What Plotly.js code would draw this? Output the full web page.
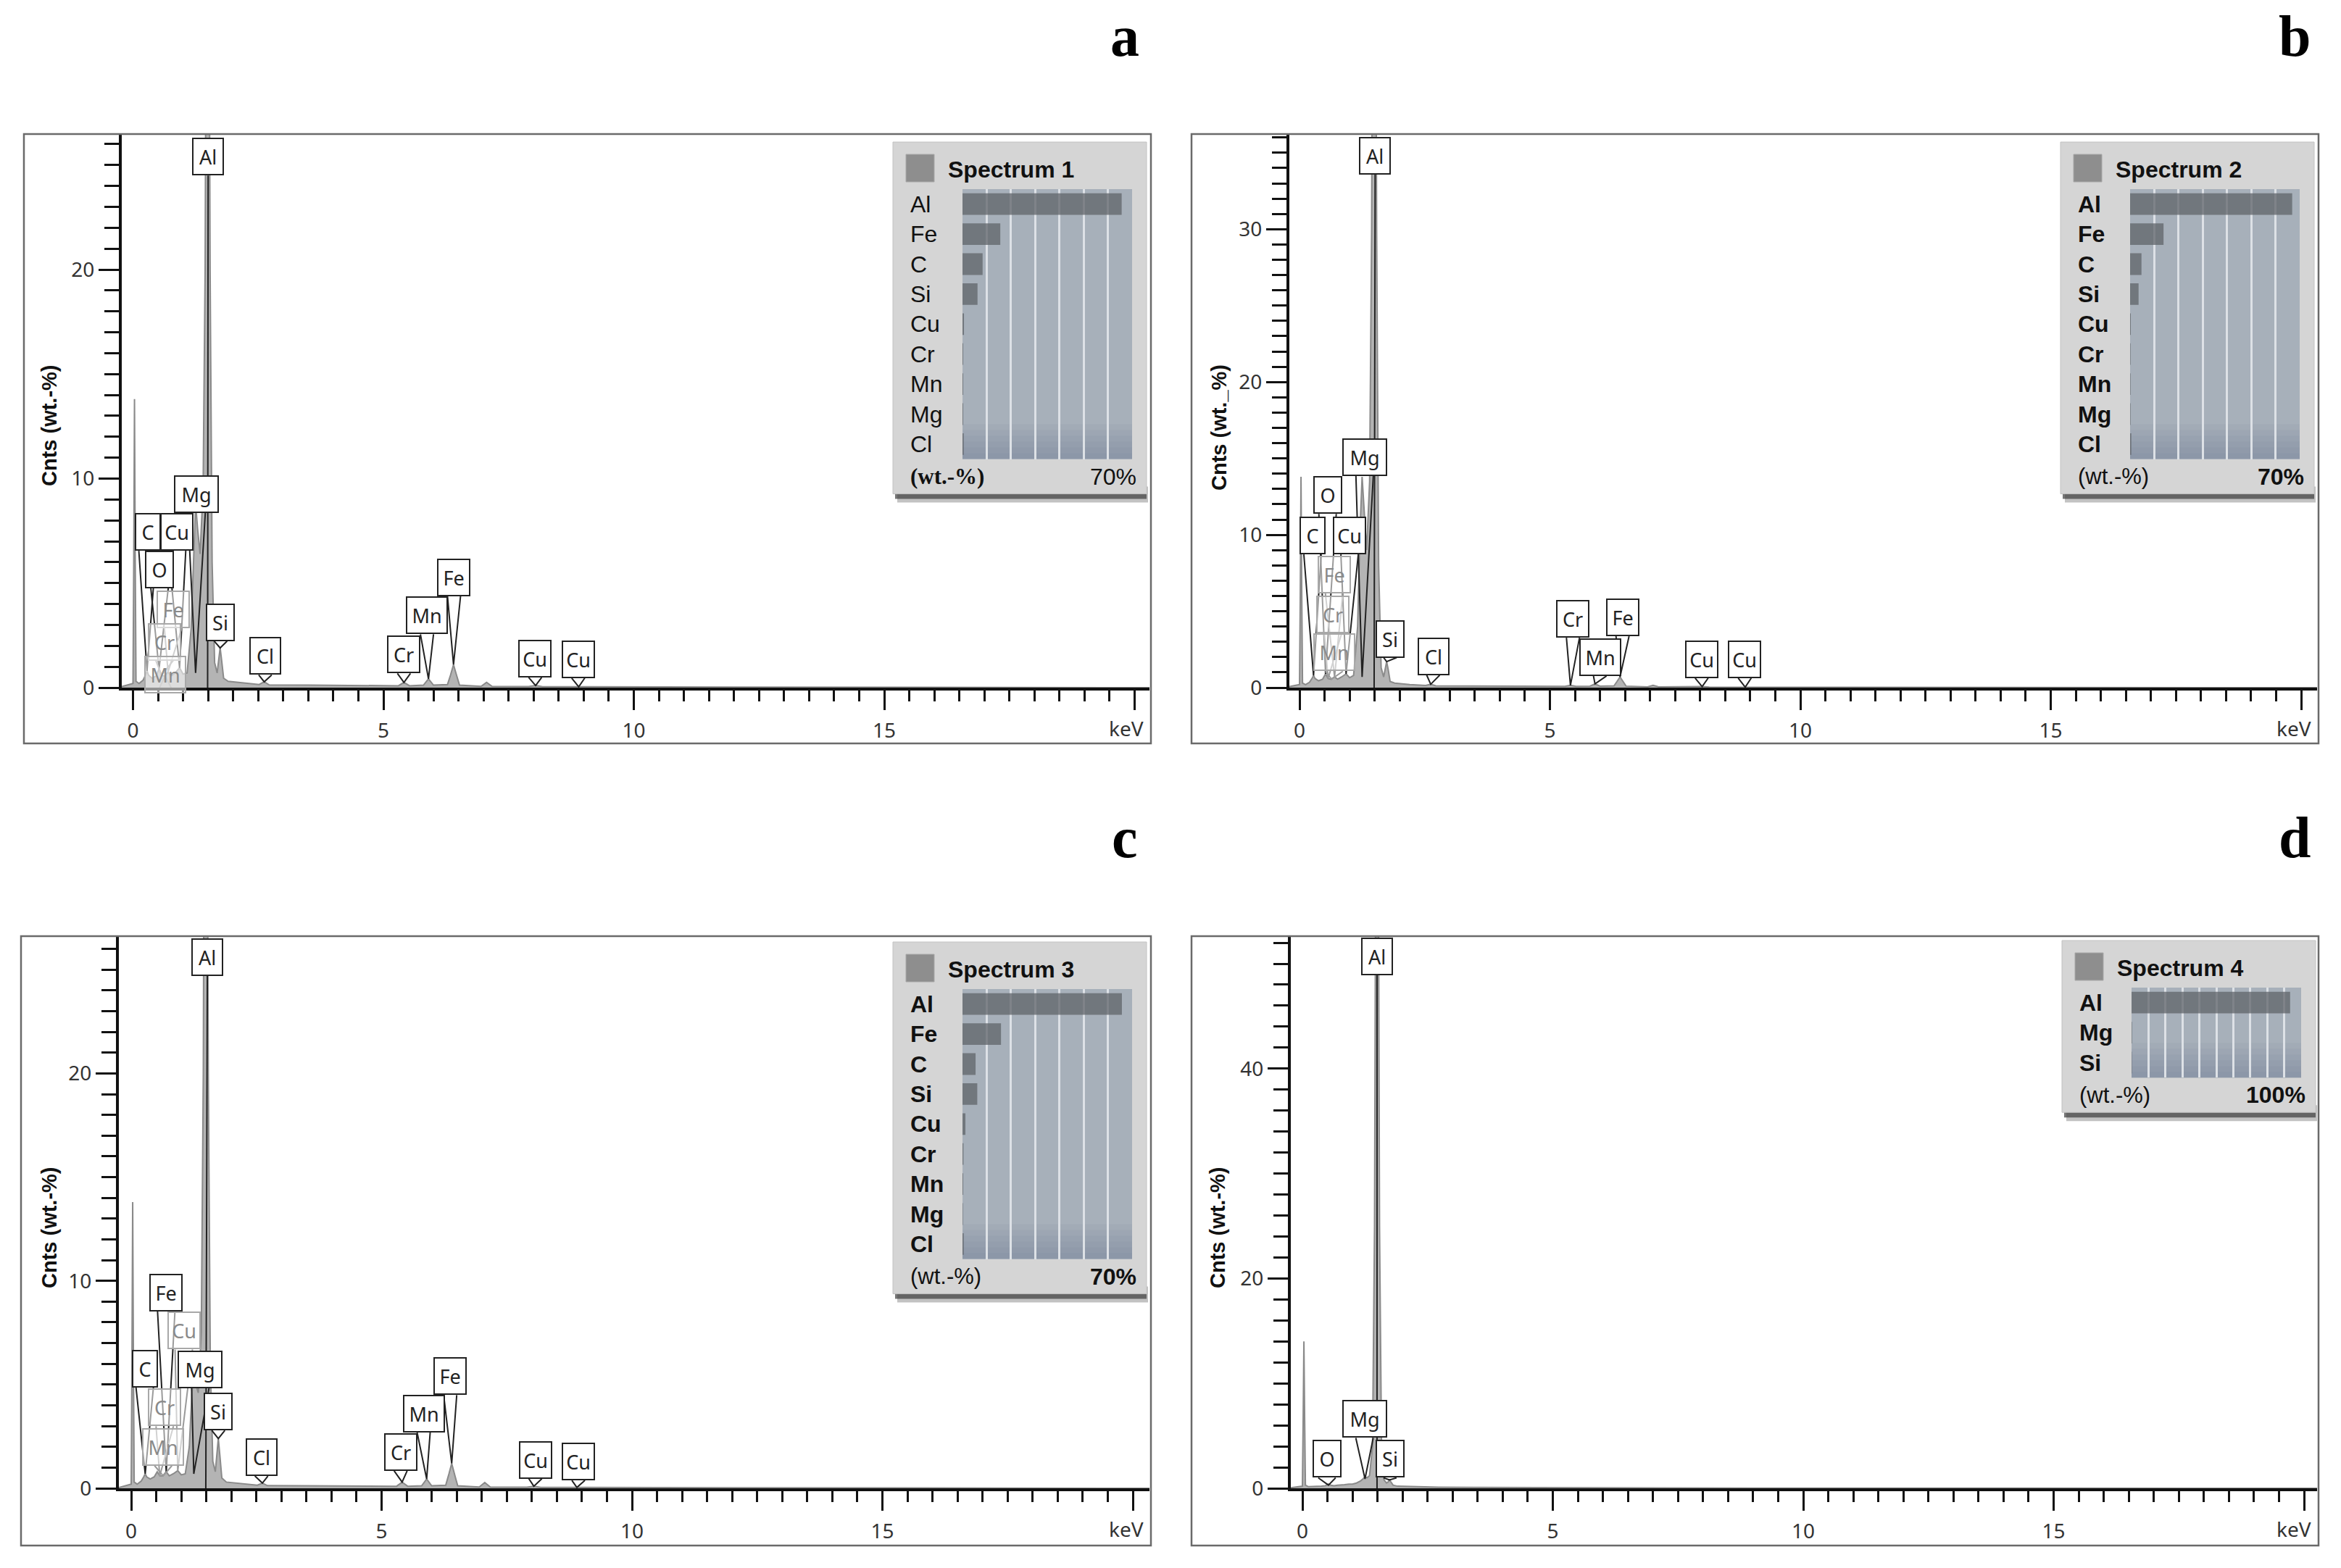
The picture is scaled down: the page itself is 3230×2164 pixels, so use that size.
<!DOCTYPE html>
<html><head><meta charset="utf-8">
<script src="https://cdn.plot.ly/plotly-3.0.1.min.js"></script>
<style>html,body{margin:0;padding:0;background:#fff}#chart{width:3230px;height:2164px}</style>
</head><body><div id="chart"></div>
<script>
// ================= DATA =================
// shared energy grid (keV) of the four EDS spectra
const energyKeV = [-0.3,0.00,0.015,0.03,0.045,0.06,0.12,0.2,0.25,0.28,0.31,0.38,0.46,0.52,0.57,0.63,0.70,0.76,0.84,0.93,1.00,1.08,1.16,1.21,1.25,1.29,1.34,1.40,1.44,1.47,1.49,1.51,1.54,1.58,1.63,1.68,1.71,1.74,1.77,1.81,1.90,2.20,2.52,2.62,2.72,3.50,4.50,5.30,5.41,5.52,5.80,5.90,6.00,6.28,6.34,6.40,6.46,6.52,6.95,7.06,7.17,7.90,8.04,8.18,9.00,11.0,14.0,20.5];
const countsA = [0,0.2,6.0,13.8,6.0,0.3,0.2,0.35,0.6,0.8,0.6,0.45,0.55,0.9,0.6,0.55,0.75,0.55,0.7,0.95,0.65,0.7,2.8,6.5,8.8,7.6,6.4,9.5,20,40,62,40,20,6.0,1.2,0.7,1.3,1.9,1.3,0.45,0.3,0.22,0.15,0.28,0.13,0.12,0.1,0.09,0.25,0.09,0.12,0.42,0.12,0.15,0.6,1.1,0.6,0.12,0.06,0.25,0.06,0.05,0.1,0.04,0.04,0.03,0.02,0];
const countsB = [0,0.2,6.0,13.8,6.0,0.3,0.2,0.35,0.6,0.8,0.6,0.45,0.55,0.9,0.6,0.55,0.7,0.55,0.7,0.9,0.65,0.8,4.0,10.5,13.8,11.5,9.0,13.5,30,60,90,60,30,8.0,1.3,0.7,1.2,1.7,1.2,0.4,0.3,0.2,0.14,0.22,0.12,0.1,0.09,0.08,0.15,0.08,0.1,0.25,0.1,0.12,0.4,0.7,0.4,0.1,0.05,0.15,0.05,0.04,0.07,0.03,0.03,0.02,0.01,0];
const countsC = [0,0.2,6.0,13.8,6.0,0.3,0.2,0.35,0.55,0.7,0.55,0.45,0.55,0.8,0.6,0.6,0.8,0.6,0.7,0.85,0.65,0.7,2.0,4.5,5.6,5.0,4.6,7.5,20,40,62,40,20,6.0,1.3,0.8,1.6,2.4,1.6,0.5,0.3,0.22,0.15,0.25,0.13,0.12,0.1,0.1,0.3,0.1,0.12,0.45,0.12,0.15,0.65,1.2,0.65,0.12,0.06,0.28,0.06,0.05,0.1,0.04,0.04,0.03,0.02,0];
const countsD = [0,0.2,6.5,14.0,6.5,0.3,0.15,0.15,0.15,0.15,0.15,0.2,0.25,0.4,0.3,0.25,0.3,0.3,0.35,0.4,0.4,0.5,0.7,0.9,1.1,1.0,1.2,4.0,25,70,130,70,25,4.0,0.8,0.5,0.6,0.8,0.6,0.3,0.2,0.15,0.1,0.1,0.1,0.08,0.06,0.05,0.05,0.05,0.05,0.05,0.05,0.04,0.04,0.04,0.04,0.04,0.03,0.03,0.03,0.03,0.03,0.03,0.02,0.02,0.01,0];

// element line markers: name, line energy (keV), spectrum height at the marker
const markNamesA  = ['Al','Mg','C','Cu','O','Fe','Cr','Mn','Si','Cl','Cr','Mn','Fe','Cu','Cu'];
const markEnergyA = [1.49,1.25,0.28,0.93,0.52,0.70,0.57,0.64,1.74,2.62,5.41,5.90,6.40,8.04,8.90];
const markTipA    = [0,0.7,0.8,0.95,0.9,0.75,0.6,0.55,1.9,0.28,0.25,0.42,1.1,0.1,0.04];
const markNamesB  = ['Al','Mg','O','C','Cu','Fe','Cr','Mn','Si','Cl','Cr','Fe','Mn','Cu','Cu'];
const markEnergyB = [1.49,1.25,0.52,0.28,0.93,0.70,0.57,0.64,1.74,2.62,5.41,6.40,5.90,8.04,8.90];
const markTipB    = [0,0.7,0.9,0.8,0.9,0.7,0.6,0.55,1.7,0.22,0.15,0.7,0.25,0.07,0.03];
const markNamesC  = ['Al','Fe','Cu','C','Mg','Cr','Mn','Si','Cl','Cr','Mn','Fe','Cu','Cu'];
const markEnergyC = [1.49,0.70,0.93,0.28,1.25,0.57,0.64,1.74,2.62,5.41,5.90,6.40,8.04,8.90];
const markTipC    = [0,0.8,0.85,0.7,0.7,0.6,0.6,2.4,0.25,0.3,0.45,1.2,0.1,0.04];
const markNamesD  = ['Al','Mg','O','Si'];
const markEnergyD = [1.49,1.25,0.52,1.74];
const markTipD    = [0,0.9,0.3,0.8];

// quantification (wt.-%)
const wtElementsA = ['Al','Fe','C','Si','Cu','Cr','Mn','Mg','Cl'];
const wtValuesA   = [65.7,15.6,8.3,6.2,0.6,0.3,0.3,0.3,0.5];
const wtElementsB = ['Al','Fe','C','Si','Cu','Cr','Mn','Mg','Cl'];
const wtValuesB   = [66.9,13.8,4.7,3.5,0.3,0.2,0.2,0.2,0.5];
const wtElementsC = ['Al','Fe','C','Si','Cu','Cr','Mn','Mg','Cl'];
const wtValuesC   = [65.8,15.9,5.4,6.1,1.2,0.4,0.3,0.2,0.5];
const wtElementsD = ['Al','Mg','Si'];
const wtValuesD   = [93.5,0.3,0.2];

// tick labels
const xTickVals = [0,5,10,15,20];
const xTickText = ['0','5','10','15',''];

// ================= LAYOUT (placement only) =================
const W = 3230, H = 2164;
const PX = v => v / W, PY = v => 1 - v / H;
// label box placement per panel (keV, counts) and faded flag
const placeA = {cx:[1.50,1.27,0.29,0.88,0.53,0.80,0.63,0.65,1.75,2.64,5.41,5.87,6.41,8.03,8.89],
                cy:[25.4,9.26,7.45,7.45,5.65,3.75,2.2,0.62,3.13,1.51,1.58,3.45,5.28,1.39,1.36],
                faded:[0,0,0,0,0,1,1,1,0,0,0,0,0,0,0]};
const placeB = {cx:[1.51,1.30,0.56,0.26,1.00,0.69,0.67,0.69,1.81,2.67,5.46,6.45,6.00,8.03,8.89],
                cy:[34.8,15.1,12.6,9.95,9.95,7.4,4.8,2.3,3.2,2.05,4.5,4.6,2.0,1.86,1.86],
                faded:[0,0,0,0,0,1,1,1,0,0,0,0,0,0,0]};
const placeC = {cx:[1.52,0.70,1.05,0.27,1.38,0.67,0.64,1.74,2.60,5.38,5.84,6.37,8.07,8.93],
                cy:[25.6,9.44,7.6,5.77,5.73,3.9,2.0,3.7,1.5,1.75,3.6,5.4,1.37,1.29],
                faded:[0,0,1,0,0,1,1,0,0,0,0,0,0,0]};
const placeD = {cx:[1.49,1.24,0.49,1.75], cy:[50.7,6.6,2.8,2.8], faded:[0,0,0,0]};

const boxW = {Al:44, Mg:62, C:36, Cu:46, O:40, Fe:46, Si:40, Cl:44, Cr:46, Mn:58};
const boxH = 52;

const panels = [
  {n:1, counts:countsA, names:markNamesA, E:markEnergyA, tip:markTipA, place:placeA,
   frame:[33,185,1588,1026], axisPx:168, rightPx:1586, x0:183.5, ppk:69.1, base:949, top:185, ppu:28.85, ydt:10, ymin:1,
   ytitle:'Cnts (wt.-%)', ytX:68, ytY:587, letter:'a', lx:1552, ly:50,
   inset:{bx:1232, by:196, rows:9, max:70, title:'Spectrum 1', el:wtElementsA, v:wtValuesA, rowBold:false, wtSerif:true, pctBold:false, pct:'70%'}},
  {n:2, counts:countsB, names:markNamesB, E:markEnergyB, tip:markTipB, place:placeB,
   frame:[1644,185,3199,1026], axisPx:1779, rightPx:3197, x0:1793, ppk:69.1, base:949, top:185, ppu:21.09, ydt:10, ymin:1,
   ytitle:'Cnts (wt._%)', ytX:1682, ytY:590, letter:'b', lx:3166, ly:50,
   inset:{bx:2843, by:196, rows:9, max:70, title:'Spectrum 2', el:wtElementsB, v:wtValuesB, rowBold:true, wtSerif:false, pctBold:true, pct:'70%'}},
  {n:3, counts:countsC, names:markNamesC, E:markEnergyC, tip:markTipC, place:placeC,
   frame:[29,1292,1588,2133], axisPx:164, rightPx:1586, x0:181, ppk:69.1, base:2054, top:1292, ppu:28.63, ydt:10, ymin:1,
   ytitle:'Cnts (wt.-%)', ytX:68, ytY:1694, letter:'c', lx:1552, ly:1156,
   inset:{bx:1232, by:1300, rows:9, max:70, title:'Spectrum 3', el:wtElementsC, v:wtValuesC, rowBold:true, wtSerif:false, pctBold:true, pct:'70%'}},
  {n:4, counts:countsD, names:markNamesD, E:markEnergyD, tip:markTipD, place:placeD,
   frame:[1644,1292,3199,2133], axisPx:1781, rightPx:3197, x0:1797, ppk:69.1, base:2054, top:1292, ppu:14.48, ydt:20, ymin:2,
   ytitle:'Cnts (wt.-%)', ytX:1680, ytY:1694, letter:'d', lx:3166, ly:1156,
   inset:{bx:2845, by:1298, rows:3, max:100, title:'Spectrum 4', el:wtElementsD, v:wtValuesD, rowBold:true, wtSerif:false, pctBold:true, pct:'100%'}}
];

const traces = [];
const shapes = [];
const annotations = [];
const layout = {
  width: W, height: H, margin:{l:0,r:0,t:0,b:0,pad:0},
  paper_bgcolor:'#ffffff', plot_bgcolor:'rgba(0,0,0,0)', showlegend:false,
  font:{family:'Noto Sans', color:'#222'}
};

const sans = 'Liberation Sans, Arial, sans-serif';
const tickFont = {family:'Noto Sans, Open Sans, sans-serif', size:28, color:'#333'};

panels.forEach(p => {
  const xa = 'x' + (p.n === 1 ? '' : p.n), ya = 'y' + (p.n === 1 ? '' : p.n);
  const xr = [(p.axisPx - p.x0) / p.ppk, (p.rightPx - p.x0) / p.ppk];
  const yr = [0, (p.base - p.top) / p.ppu];
  layout['xaxis' + (p.n === 1 ? '' : p.n)] = {
    domain:[PX(p.axisPx), PX(p.rightPx)], range:xr, anchor:ya, fixedrange:true,
    showline:true, linecolor:'#111', linewidth:4, showgrid:false, zeroline:false,
    ticks:'outside', tickmode:'array', tickvals:xTickVals, ticktext:xTickText,
    ticklen:27, tickwidth:3, tickcolor:'#111', tickfont:tickFont, ticklabelstandoff:4,
    minor:{ticks:'outside', dtick:0.5, tick0:0, ticklen:15, tickwidth:3, tickcolor:'#111', showgrid:false}
  };
  layout['yaxis' + (p.n === 1 ? '' : p.n)] = {
    domain:[PY(p.base), PY(p.top)], range:yr, anchor:xa, fixedrange:true,
    showline:true, linecolor:'#111', linewidth:4, showgrid:false, zeroline:false,
    ticks:'outside', tick0:0, dtick:p.ydt, ticklen:28, tickwidth:3, tickcolor:'#111', tickfont:tickFont,
    minor:{ticks:'outside', dtick:p.ymin, tick0:0, ticklen:20, tickwidth:3, tickcolor:'#111', showgrid:false}
  };
  // spectrum
  traces.push({type:'scatter', mode:'lines', x:energyKeV, y:p.counts, xaxis:xa, yaxis:ya,
    fill:'tozeroy', fillcolor:'#b4b4b4', line:{color:'#8a8a8a', width:2}, hoverinfo:'skip'});
  // frame
  shapes.push({type:'rect', xref:'paper', yref:'paper', x0:PX(p.frame[0]), x1:PX(p.frame[2]),
    y0:PY(p.frame[3]), y1:PY(p.frame[1]), line:{color:'#6a6a6a', width:2.5}, fillcolor:'rgba(0,0,0,0)', layer:'above'});
  // element markers
  p.names.forEach((nm, i) => {
    const bw = boxW[nm], cx = p.place.cx[i], cy = p.place.cy[i];
    const yb = cy - (boxH / 2) / p.ppu;
    const E = p.E[i];
    let hw = (nm === 'Al') ? 0 : (E < 1.4 ? 12 : 9);
    hw = hw / p.ppk;
    const faded = p.place.faded[i];
    const col = faded ? '#9a9a9a' : '#222';
    shapes.push({type:'path', xref:xa, yref:ya, layer:'above',
      path:`M ${cx - hw},${yb} L ${E},${p.tip[i]} L ${cx + hw},${yb}`,
      line:{color:col, width:2}});
    annotations.push({xref:xa, yref:ya, x:cx, y:cy, text:nm, showarrow:false,
      width:bw - 4, height:boxH - 4, borderpad:0, borderwidth:2,
      bordercolor: faded ? '#a8a8a8' : '#222', bgcolor: faded ? 'rgba(255,255,255,0.55)' : '#ffffff',
      font:{family:'Noto Sans, Open Sans, sans-serif', size:27, color: faded ? '#8a8a8a' : '#222'},
      xanchor:'center', yanchor:'middle'});
  });
  // keV label
  annotations.push({xref:'paper', yref:'paper', x:PX(p.rightPx - 6), y:PY(p.base + 56), text:'keV', showarrow:false,
    xanchor:'right', yanchor:'middle', font:tickFont});
  // y title
  annotations.push({xref:'paper', yref:'paper', x:PX(p.ytX), y:PY(p.ytY), text:'<b>' + p.ytitle + '</b>', showarrow:false,
    textangle:-90, xanchor:'center', yanchor:'middle', font:{family:sans, size:29, color:'#111'}});
  // panel letter
  annotations.push({xref:'paper', yref:'paper', x:PX(p.lx), y:PY(p.ly), text:'<b>' + p.letter + '</b>', showarrow:false,
    xanchor:'center', yanchor:'middle', font:{family:'Liberation Serif, Times New Roman, serif', size:80, color:'#000'}});

  // ---------- inset quantification box ----------
  const q = p.inset, bx = q.bx, by = q.by, bw = 350;
  const rowH = 41.4, areaX0 = bx + 96, areaX1 = bx + 330, areaY0 = by + 65, areaY1 = by + 65 + q.rows * rowH;
  const bh = (areaY1 - by) + 48;
  shapes.push({type:'rect', xref:'paper', yref:'paper', layer:'below', x0:PX(bx + 6), x1:PX(bx + bw + 2), y0:PY(by + bh + 12), y1:PY(by + bh - 10),
    fillcolor:'rgba(80,80,80,0.35)', line:{width:0}});
  shapes.push({type:'rect', xref:'paper', yref:'paper', layer:'below', x0:PX(bx + 3), x1:PX(bx + bw), y0:PY(by + bh + 7), y1:PY(by + bh - 6),
    fillcolor:'rgba(60,60,60,0.7)', line:{width:0}});
  shapes.push({type:'rect', xref:'paper', yref:'paper', layer:'below', x0:PX(bx), x1:PX(bx + bw), y0:PY(by + bh), y1:PY(by),
    fillcolor:'#d5d5d5', line:{color:'#c2c2c2', width:1}});
  shapes.push({type:'rect', xref:'paper', yref:'paper', layer:'below', x0:PX(bx + 18), x1:PX(bx + 57), y0:PY(by + 55), y1:PY(by + 17),
    fillcolor:'#8e8e8e', line:{color:'#a8a8a8', width:1}});
  shapes.push({type:'rect', xref:'paper', yref:'paper', layer:'below', x0:PX(areaX0), x1:PX(areaX1), y0:PY(areaY1), y1:PY(areaY0),
    fillcolor:'#a7b0ba', line:{width:0}});
  // soft darkening toward the bottom of the bar area
  for (let k = 0; k < 6; k++) {
    shapes.push({type:'rect', xref:'paper', yref:'paper', layer:'below', x0:PX(areaX0), x1:PX(areaX1),
      y0:PY(areaY1), y1:PY(areaY1 - 48 + k * 8), fillcolor:'rgba(105,120,138,0.07)', line:{width:0}});
  }
  const ix = 'x' + (p.n + 4), iy = 'y' + (p.n + 4);
  layout['xaxis' + (p.n + 4)] = {domain:[PX(areaX0), PX(areaX1)], range:[0, q.max], anchor:iy, fixedrange:true,
    showgrid:true, dtick:10, tick0:0, gridcolor:'#dde1e6', gridwidth:3, showticklabels:false, ticks:'', zeroline:false, showline:false};
  layout['yaxis' + (p.n + 4)] = {domain:[PY(areaY1), PY(areaY0)], type:'category', categoryorder:'array', categoryarray:q.el,
    range:[q.rows - 0.5, -0.5], anchor:ix, fixedrange:true, showgrid:false, showticklabels:false, ticks:'', zeroline:false, showline:false};
  traces.push({type:'bar', orientation:'h', x:q.v, y:q.el, xaxis:ix, yaxis:iy, width:0.72,
    marker:{color:'rgba(95,98,104,0.74)', line:{width:0}}, hoverinfo:'skip'});
  q.el.forEach((el, i) => {
    annotations.push({xref:'paper', yref:iy, x:PX(bx + 22), y:i, text: q.rowBold ? '<b>' + el + '</b>' : el, showarrow:false,
      xanchor:'left', yanchor:'middle', font:{family:sans, size:32, color:'#111'}});
  });
  annotations.push({xref:'paper', yref:'paper', x:PX(bx + 74), y:PY(by + 38), text:'<b>' + q.title + '</b>', showarrow:false,
    xanchor:'left', yanchor:'middle', font:{family:sans, size:32, color:'#111'}});
  annotations.push({xref:'paper', yref:'paper', x:PX(bx + 22), y:PY(areaY1 + 24), text: q.wtSerif ? '<b>(wt.-%)</b>' : '(wt.-%)', showarrow:false,
    xanchor:'left', yanchor:'middle', font:{family: q.wtSerif ? 'Liberation Serif, Times New Roman, serif' : sans, size:31, color:'#111'}});
  annotations.push({xref:'paper', yref:'paper', x:PX(bx + 338), y:PY(areaY1 + 24), text: q.pctBold ? '<b>' + q.pct + '</b>' : q.pct, showarrow:false,
    xanchor:'right', yanchor:'middle', font:{family:sans, size:32, color:'#111'}});
});

layout.shapes = shapes;
layout.annotations = annotations;
Plotly.newPlot('chart', traces, layout, {staticPlot:true, displayModeBar:false});
</script>
</body></html>
